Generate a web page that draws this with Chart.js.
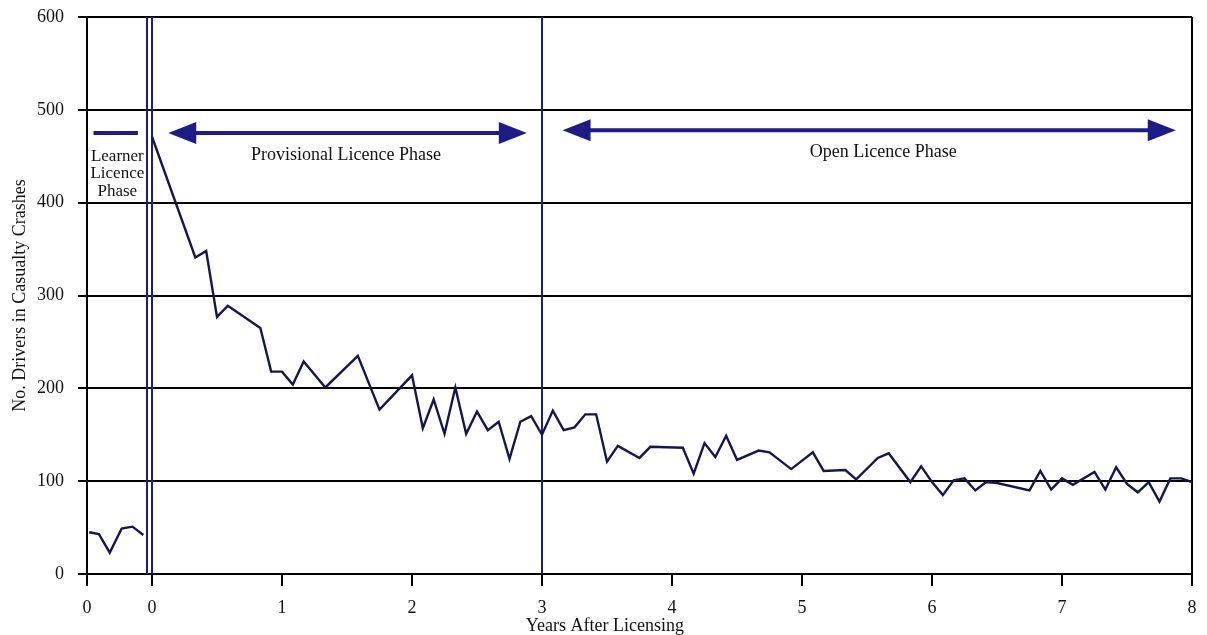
<!DOCTYPE html>
<html>
<head>
<meta charset="utf-8">
<script src="https://cdn.jsdelivr.net/npm/chart.js@4.4.1/dist/chart.umd.min.js"></script>
<style>
  body { margin: 0; background: #fff; }
  #wrap { width: 1207px; height: 635px; }
</style>
</head>
<body>
<div id="wrap"><canvas id="chart"></canvas></div>
<script>
// months relative to licensing; learner phase sits left of 0
var learnerMonths = [-5.8, -4.9, -3.9, -2.8, -1.8, -0.8];
var learnerValues = [45, 43, 23, 49, 51, 42];

var licensedMonths = [0,4,5,6,7,10,11,12,13,14,16,19,21,24,25,26,27,28,29,30,31,32,33,34,35,36,37,38,39,40,41,42,43,45,46,49,50,51,52,53,54,56,57,59,61,62,64,65,67,68,70,71,72,73,74,75,76,77,78,81,82,83,84,85,87,88,89,90,91,92,93,94,95,96];
var licensedValues = [471,341,348,277,289,265,218,218,204,229,201,235,177,214,157,188,151,201,151,175,155,164,124,164,170,150,176,155,158,172,172,121,138,125,137,136,108,141,126,149,123,133,131,113,131,111,112,102,125,130,99,116,99,85,101,103,90,99,98,90,111,91,103,96,110,91,115,97,88,99,78,103,103,99];

var tickMonths = [-6, 0, 12, 24, 36, 48, 60, 72, 84, 96];
var tickLabels = ['0', '0', '1', '2', '3', '4', '5', '6', '7', '8'];
var yTicks = [0, 100, 200, 300, 400, 500, 600];

var phaseLines = [-0.5, 0, 36];

var lineColor = '#16164f';
var blue = '#1c1c84';
var serif = '"Liberation Serif", "DejaVu Serif", serif';

function pts(xs, ys) {
    return xs.map(function (x, i) { return {x: x, y: ys[i]}; });
}

function arrow(ctx, x1, x2, y) {
    var hl = 28, hh = 11;
    ctx.lineWidth = 4;
    ctx.beginPath();
    ctx.moveTo(x1 + hl - 4, y);
    ctx.lineTo(x2 - hl + 4, y);
    ctx.stroke();
    ctx.beginPath();
    ctx.moveTo(x2, y); ctx.lineTo(x2 - hl, y - hh); ctx.lineTo(x2 - hl, y + hh); ctx.closePath();
    ctx.fill();
    ctx.beginPath();
    ctx.moveTo(x1, y); ctx.lineTo(x1 + hl, y - hh); ctx.lineTo(x1 + hl, y + hh); ctx.closePath();
    ctx.fill();
}

var phasePlugin = {
    id: 'phases',
    beforeDatasetsDraw: function (chart) {
        var ctx = chart.ctx, x = chart.scales.x, a = chart.chartArea;
        ctx.save();
        // right border
        ctx.strokeStyle = '#000';
        ctx.lineWidth = 2;
        ctx.beginPath();
        ctx.moveTo(a.right, a.top); ctx.lineTo(a.right, a.bottom);
        ctx.stroke();
        ctx.strokeStyle = blue;
        phaseLines.forEach(function (m) {
            var px = Math.round(x.getPixelForValue(m));
            ctx.beginPath();
            ctx.moveTo(px, a.top); ctx.lineTo(px, a.bottom);
            ctx.stroke();
        });
        ctx.restore();
    },
    afterDatasetsDraw: function (chart) {
        var ctx = chart.ctx, x = chart.scales.x, y = chart.scales.y;
        ctx.save();
        ctx.strokeStyle = blue;
        ctx.fillStyle = blue;
        var ay = y.getPixelForValue(475);
        // learner key line
        ctx.lineWidth = 4;
        ctx.beginPath();
        ctx.moveTo(x.getPixelForValue(-5.4), ay);
        ctx.lineTo(x.getPixelForValue(-1.3), ay);
        ctx.stroke();
        arrow(ctx, x.getPixelForValue(1.5), x.getPixelForValue(34.6), ay);
        arrow(ctx, x.getPixelForValue(37.9), x.getPixelForValue(94.5), y.getPixelForValue(478));

        ctx.fillStyle = '#111';
        ctx.font = '17px ' + serif;
        ctx.textAlign = 'center';
        ctx.textBaseline = 'middle';
        var lx = x.getPixelForValue(-3.2);
        ['Learner', 'Licence', 'Phase'].forEach(function (t, i) {
            ctx.fillText(t, lx, y.getPixelForValue(450 - i * 18.8));
        });
        ctx.font = '18px ' + serif;
        ctx.fillText('Provisional Licence Phase', x.getPixelForValue(17.9), y.getPixelForValue(451));
        ctx.fillText('Open Licence Phase', x.getPixelForValue(67.5), y.getPixelForValue(454));

        // x axis title, set left of centre as in the source figure
        ctx.fillText('Years After Licensing', x.getPixelForValue(41.8), chart.height - 9);
        ctx.restore();
    }
};

var ctx = document.getElementById('chart').getContext('2d');
var chart = new Chart(ctx, {
    type: 'line',
    data: {
        datasets: [{
            data: pts(learnerMonths, learnerValues),
            borderColor: lineColor,
            borderWidth: 2.4,
            pointRadius: 0,
            tension: 0
        }, {
            data: pts(licensedMonths, licensedValues),
            borderColor: lineColor,
            borderWidth: 2.4,
            pointRadius: 0,
            tension: 0
        }]
    },
    options: {
        responsive: true,
        maintainAspectRatio: false,
        animation: false,
        layout: { padding: { top: 17, right: 15, left: 0, bottom: 0 } },
        plugins: { legend: { display: false }, tooltip: { enabled: false } },
        scales: {
            x: {
                type: 'linear',
                min: -6,
                max: 96,
                afterBuildTicks: function (s) {
                    s.ticks = tickMonths.map(function (v) { return {value: v}; });
                },
                afterFit: function (s) {
                    s.height = 61;
                    s.paddingLeft = 0;
                    s.paddingRight = 0;
                },
                ticks: {
                    autoSkip: false,
                    maxRotation: 0,
                    padding: 11,
                    color: '#111',
                    font: { family: serif, size: 18 },
                    callback: function (v) {
                        var i = tickMonths.indexOf(v);
                        return i >= 0 ? tickLabels[i] : '';
                    }
                },
                grid: { drawOnChartArea: false, drawTicks: true, tickLength: 12, color: '#000', lineWidth: 2 },
                border: { color: '#000', width: 2 }
            },
            y: {
                min: 0,
                max: 600,
                afterBuildTicks: function (s) {
                    s.ticks = yTicks.map(function (v) { return {value: v}; });
                },
                afterFit: function (s) {
                    s.width = 87;
                    s.paddingTop = 0;
                    s.paddingBottom = 0;
                },
                ticks: {
                    padding: 14,
                    color: '#111',
                    font: { family: serif, size: 18 }
                },
                grid: { color: '#000', lineWidth: 2, tickLength: 9 },
                border: { color: '#000', width: 2 },
                title: {
                    display: true,
                    text: 'No. Drivers in Casualty Crashes',
                    color: '#111',
                    font: { family: serif, size: 18 },
                    padding: { top: 9, bottom: 0 }
                }
            }
        }
    },
    plugins: [phasePlugin]
});
</script>
</body>
</html>
